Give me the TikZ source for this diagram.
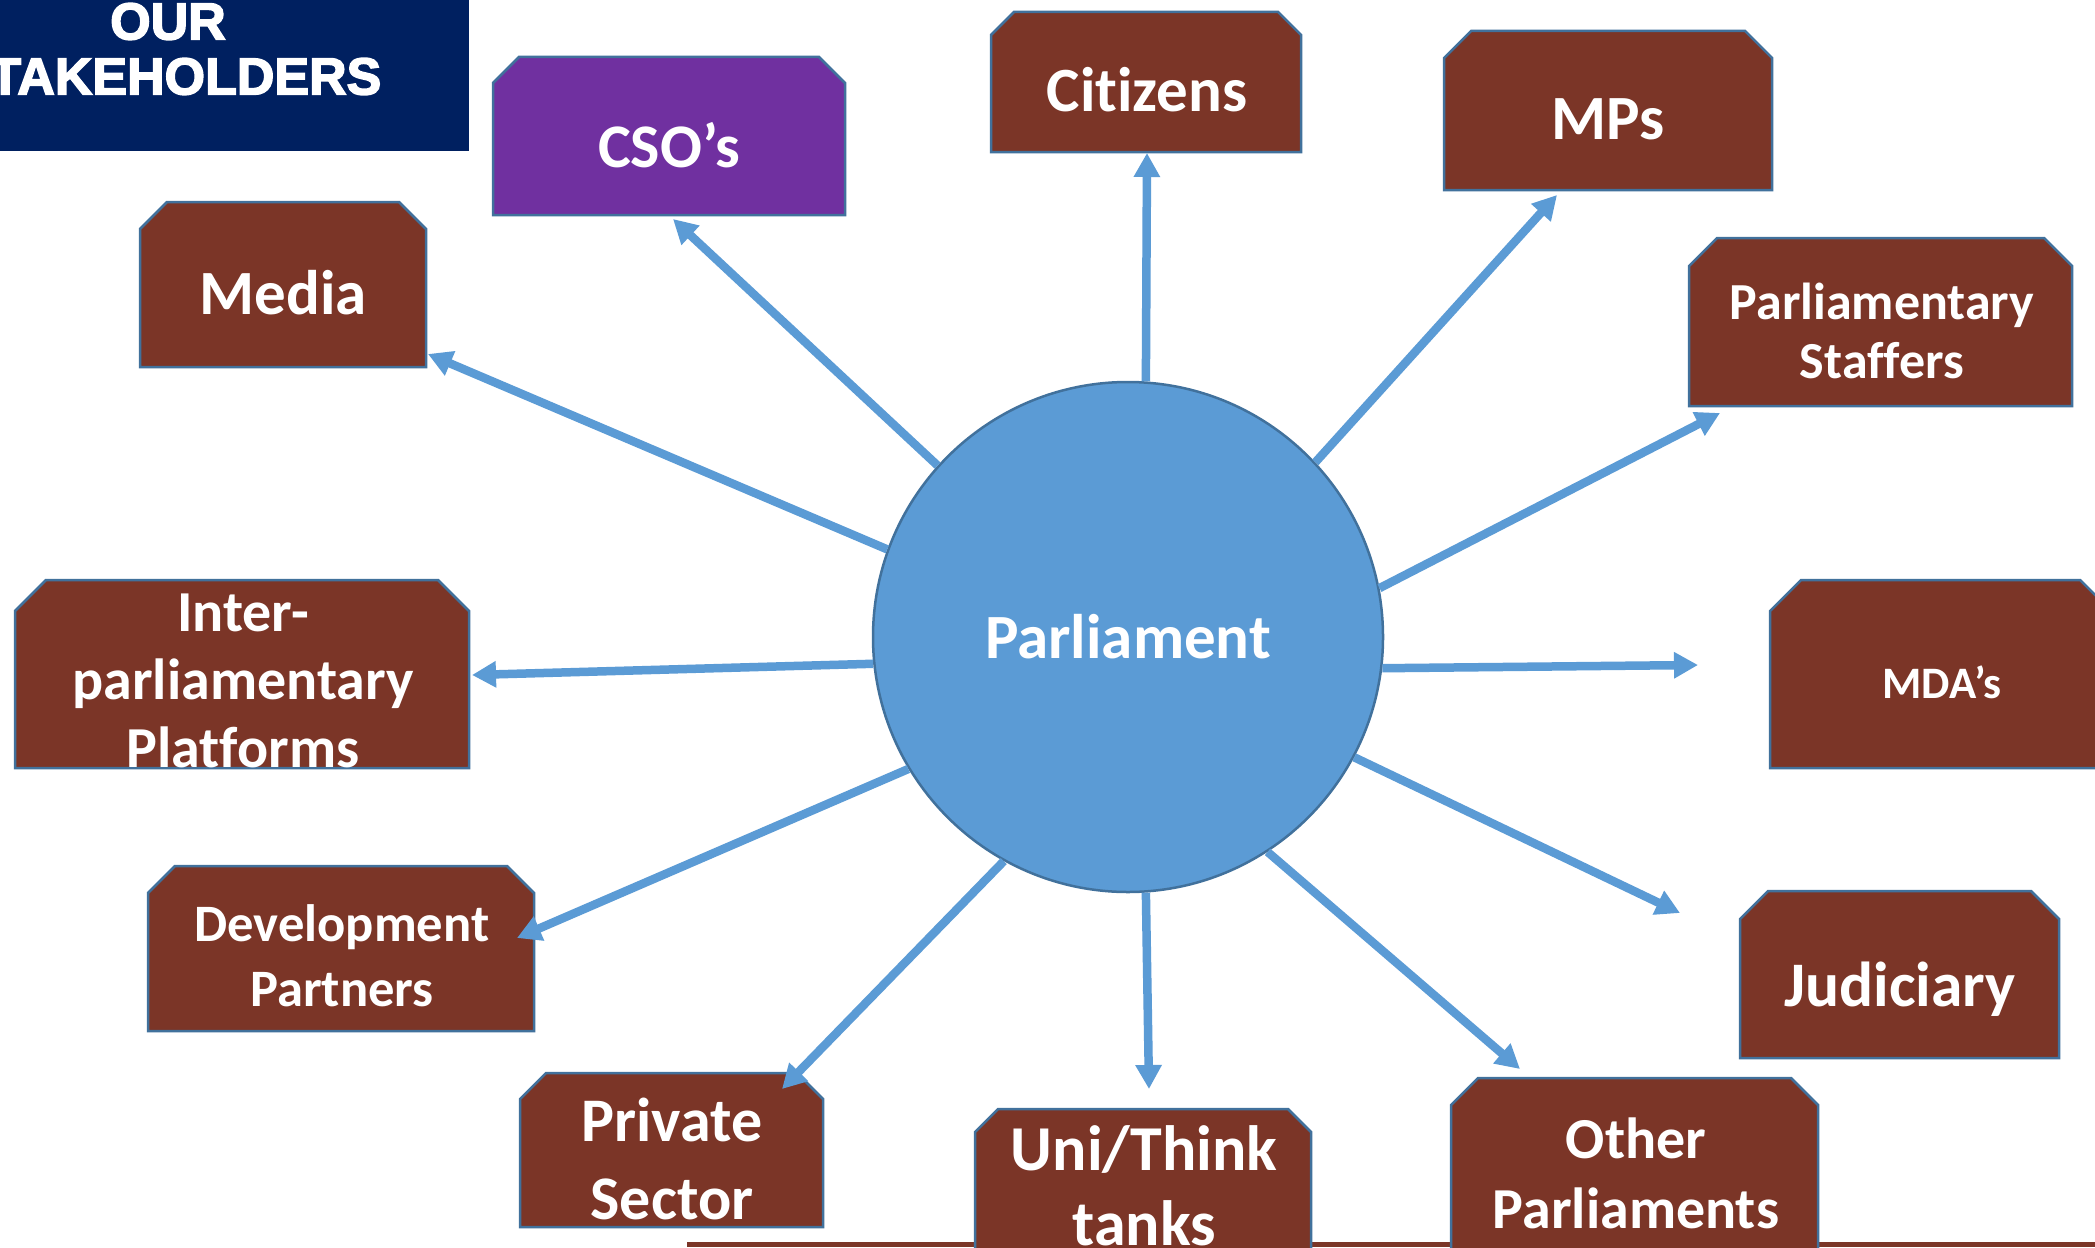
\documentclass[tikz,border=0pt]{standalone}
\usepackage{fontspec}
\setmainfont{Carlito}[RawFeature={-liga;-clig;-calt}]
\newfontfamily\titlefont{Liberation Sans}[BoldFeatures={FakeBold=3}]
\usetikzlibrary{arrows.meta}
\definecolor{boxbrown}{HTML}{7B3527}
\definecolor{csopurple}{HTML}{7030A0}
\definecolor{navyblue}{HTML}{002060}
\definecolor{accent}{HTML}{5B9BD5}
\definecolor{edgeblue}{HTML}{41719C}
% #1 name, #2 x1, #3 y1, #4 x2, #5 y2, #6 fill, #7 chamfer
\newcommand\snipbox[7]{%
  \filldraw[stake, fill=#6] (#2,#5) -- (#2,#3+#7) -- (#2+#7,#3) -- (#4-#7,#3) -- (#4,#3+#7) -- (#4,#5) -- cycle;
  \coordinate (#1) at ({(#2+#4)/2},{(#3+#5)/2});
}
\tikzset{
  stake/.style={draw=edgeblue, line width=2.5pt},
  lbl/.style={text=white, align=center, inner sep=0pt},
  arr/.style={draw=accent, line width=8.5pt, -{Triangle[length=24pt,width=25pt]}},
}
\newcommand\fs[2]{\bfseries\fontsize{#1}{#2}\selectfont}
\begin{document}
\begin{tikzpicture}[x=1pt,y=-1pt]
\useasboundingbox (0,0) rectangle (2095,1247);
\clip (0,0) rectangle (2095,1247);
\fill[white] (0,0) rectangle (2095,1247);

% title
\fill[navyblue] (-10,-10) rectangle (469,151);
\node[lbl, font=\titlefont\fs{52}{55}] (title) at (168,49) {OUR\\STAKEHOLDERS};

% bottom line
\coordinate (bl) at (687,1244);
\coordinate (br) at (2100,1244);
\draw[boxbrown, line width=5pt] (bl) -- (br);

% boxes
\snipbox{cso}{493}{57}{845}{215}{csopurple}{26}
\snipbox{cit}{991}{12}{1301}{152}{boxbrown}{23}
\snipbox{mps}{1444}{31}{1772}{190}{boxbrown}{27}
\snipbox{staff}{1689}{238}{2072}{406}{boxbrown}{28}
\snipbox{media}{140}{202}{426}{367}{boxbrown}{27}
\snipbox{inter}{15}{580}{469}{768}{boxbrown}{31}
\snipbox{mda}{1770}{580}{2111}{768}{boxbrown}{31}
\snipbox{dev}{148}{866}{534}{1031}{boxbrown}{27}
\snipbox{jud}{1740}{891}{2059}{1058}{boxbrown}{28}
\snipbox{priv}{520}{1073}{823}{1227}{boxbrown}{26}
\snipbox{uni}{975}{1109}{1311}{1262}{boxbrown}{23}
\snipbox{oth}{1451}{1078}{1818}{1262}{boxbrown}{27}

% labels
\node[lbl, font=\fs{62}{70}] (csot) at (669,145) {CSO’s};
\node[lbl, font=\fs{63}{70}] (citt) at (1147,90) {Citizens};
\node[lbl, font=\fs{63}{70}] (mpst) at (1608,119) {MPs};
\node[lbl, font=\fs{63}{70}] (mediat) at (283,293) {Media};
\node[lbl, font=\fs{52}{59}] (stafft) at (1882,331) {Parliamentary\\Staffers};
\node[lbl, font=\fs{58}{68}] (intert) at (243,681) {Inter-\\parliamentary\\Platforms};
\node[lbl, font=\fs{45}{50}] (mdat) at (1942,682) {MDA’s};
\node[lbl, font=\fs{52.6}{65}] (devt) at (342,956) {Development\\Partners};
\node[lbl, font=\fs{63.5}{70}] (judt) at (1900,989) {Judiciary};
\node[lbl, font=\fs{62}{78}] (privt) at (672,1159) {Private\\Sector};
\node[lbl, font=\fs{64}{75}] (unit) at (1144,1186) {Uni/Think\\tanks};
\node[lbl, font=\fs{58}{70}] (otht) at (1636,1173) {Other\\Parliaments};

% centre
\node[circle, fill=accent, draw=edgeblue, line width=2.5pt, minimum size=510pt, text=white, font=\fs{63}{70}] (parl) at (1128,637) {Parliament};

% arrow tips
\coordinate (tcso) at (673,219);
\coordinate (tcit) at (1147,153);
\coordinate (tmps) at (1557,195);
\coordinate (tstaff) at (1720,413);
\coordinate (tmda) at (1698,665);
\coordinate (tjud) at (1680,913);
\coordinate (toth) at (1520,1069);
\coordinate (tuni) at (1149,1089);
\coordinate (tpriv) at (782,1089);
\coordinate (tdev) at (517,938);
\coordinate (tinter) at (472,675);
\coordinate (tmedia) at (428,354);

\draw[arr] (parl.138.5) -- (tcso);
\draw[arr] (parl.86) -- (tcit);
\draw[arr] (parl.43.9) -- (tmps);
\draw[arr] (parl.11) -- (tstaff);
\draw[arr] (parl.-7) -- (tmda);
\draw[arr] (parl.-28) -- (tjud);
\draw[arr] (parl.-57.7) -- (toth);
\draw[arr] (parl.-86.8) -- (tuni);
\draw[arr] (parl.-119) -- (tpriv);
\draw[arr] (parl.-149.7) -- (tdev);
\draw[arr] (parl.-174) -- (tinter);
\draw[arr] (parl.160) -- (tmedia);
\end{tikzpicture}
\end{document}
